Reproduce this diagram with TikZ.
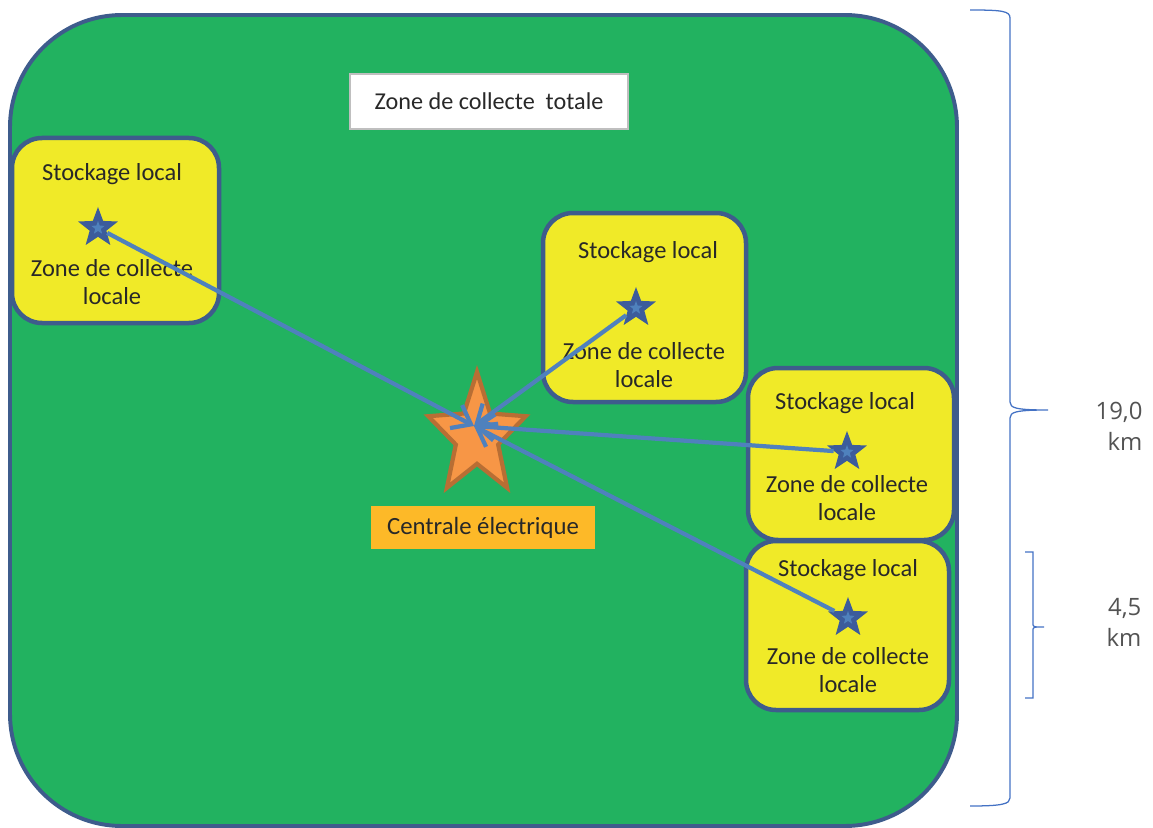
\documentclass[tikz,border=0pt]{standalone}
\usepackage{fontspec}
\setmainfont{Carlito}
\newfontfamily\scalefont{Open Sans}
\usetikzlibrary{positioning,shapes.geometric,arrows.meta}

\definecolor{fieldgreen}{RGB}{34,178,96}
\definecolor{edgeblue}{RGB}{62,92,140}
\definecolor{boxyellow}{RGB}{240,234,40}
\definecolor{siteblue}{RGB}{60,92,155}
\definecolor{flowblue}{RGB}{79,129,189}
\definecolor{braceblue}{RGB}{68,114,196}
\definecolor{plantorange}{RGB}{247,150,70}
\definecolor{plantedge}{RGB}{184,110,52}
\definecolor{namegold}{RGB}{253,185,40}
\definecolor{inkgray}{RGB}{40,40,40}

\tikzset{
  field/.style={draw=edgeblue, fill=fieldgreen, line width=2.8pt, rounded corners=2.8cm},
  localbox/.style={draw=edgeblue, fill=boxyellow, line width=3.2pt, rounded corners=0.75cm},
  boxtext/.style={font=\fontsize{17.4}{20}\selectfont, text=inkgray, align=center, inner sep=0pt},
  titlebox/.style={draw=black!25, fill=white, line width=0.8pt, minimum width=6.95cm,
    minimum height=1.375cm, font=\fontsize{17.2}{18}\selectfont, text=inkgray},
  sitecore/.style={star, star points=5, star point ratio=2.4, fill=flowblue, minimum size=0.35cm, inner sep=0pt},
  site/.style={star, star points=5, star point ratio=2.4, fill=siteblue, minimum size=1.05cm, inner sep=0pt,
    label={[sitecore]center:}},
  plant/.style={star, star points=5, star point ratio=2.3, fill=plantorange, draw=plantedge,
    line width=3pt, minimum size=3.2cm, inner sep=0pt, xscale=0.8, transform shape},
  plantname/.style={fill=namegold, minimum width=5.6cm, minimum height=1.075cm,
    font=\fontsize{17.6}{18}\selectfont, text=inkgray},
  flow/.style={draw=flowblue, line width=3pt, -{Straight Barb[length=4.2mm, width=6.5mm]}},
  brace/.style={draw=braceblue, line width=0.9pt},
  scalelabel/.style={font=\scalefont\fontsize{17}{22}\selectfont, text=inkgray!80, align=right, inner sep=0pt}
}

\begin{document}
\begin{tikzpicture}[x=0.025cm, y=-0.025cm]
  \useasboundingbox (0,0) rectangle (1153,828);

  % total collection area
  \draw[field] (10,15) rectangle (957,826);
  \node[titlebox] (total) at (489,101.5) {Zone de collecte\ \ totale};

  % local collection areas
  \draw[localbox] (12,138) rectangle (219,323);
  \draw[localbox] (543,213) rectangle (746,402);
  \draw[localbox] (748,368) rectangle (954,540);
  \draw[localbox] (746,541) rectangle (949,710);

  \node[boxtext] (stock1) at (112,174) {Stockage local};
  \node[boxtext] (zone1) at (112,282) {Zone de collecte\\locale};
  \node[boxtext] (stock2) at (648,252) {Stockage local};
  \node[boxtext] (zone2) at (644,365) {Zone de collecte\\locale};
  \node[boxtext] (stock3) at (845,403) {Stockage local};
  \node[boxtext] (zone3) at (847,498) {Zone de collecte\\locale};
  \node[boxtext] (stock4) at (848,570) {Stockage local};
  \node[boxtext] (zone4) at (848,670) {Zone de collecte\\locale};

  % power plant
  \node[plant] (plant) at (477,436) {};
  \node[plantname] (name) at (483,527.5) {Centrale électrique};
  \coordinate (hub) at (474,426);

  % local storage sites
  \node[site] (site1) at (98,228) {};
  \node[site] (site2) at (636,308) {};
  \node[site] (site3) at (847,452) {};
  \node[site] (site4) at (848,618) {};

  \draw[flow] (site1) -- (hub);
  \draw[flow] (site2) -- (hub);
  \draw[flow] (site3) -- (hub);
  \draw[flow] (site4) -- (hub);

  % distance braces
  \coordinate (big) at (1048,410);
  \coordinate (small) at (1044,627);
  \draw[brace] (970,10) .. controls (1002,10) and (1010,11) .. (1010,18) -- (1010,402)
    .. controls (1010,408) and (1016,410) .. (big)
    .. controls (1016,410) and (1010,412) .. (1010,418) -- (1010,798)
    .. controls (1010,804) and (1002,806) .. (970,806);
  \draw[brace] (1025,552) -- (1033,552) -- (1033,625) .. controls (1033,627) .. (small)
    .. controls (1033,627) .. (1033,629) -- (1033,698) -- (1025,698);
  \node[scalelabel] (dist1) at (1119,426) {19,0\\km};
  \node[scalelabel] (dist2) at (1124,622) {4,5\\km};
\end{tikzpicture}
\end{document}
